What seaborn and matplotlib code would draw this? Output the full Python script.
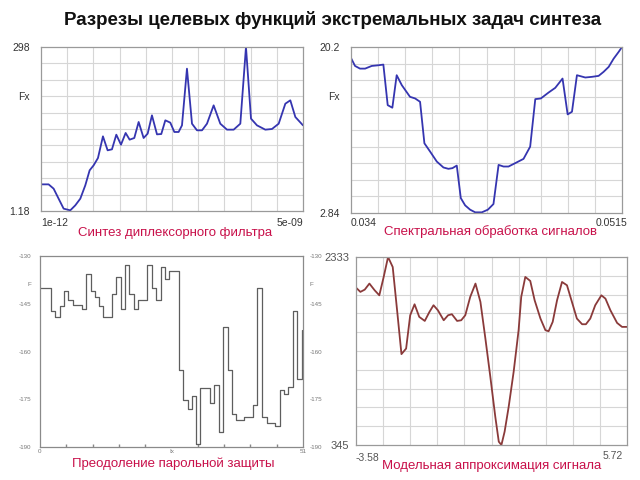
import numpy as np
import matplotlib
matplotlib.use("Agg")
import matplotlib.pyplot as plt
import seaborn as sns

title = "Разрезы целевых функций экстремальных задач синтеза"
sub1 = "Синтез диплексорного фильтра"
sub2 = "Спектральная обработка сигналов"
sub3 = "Преодоление парольной защиты"
sub4 = "Модельная аппроксимация сигнала"

# Panel 1: filter synthesis (x in ns, 1e-12 .. 5e-09)
fir_x = [0.001, 0.146, 0.242, 0.337, 0.433, 0.560, 0.655, 0.751, 0.846, 0.929,
         1.005, 1.088, 1.183, 1.272, 1.355, 1.438, 1.527, 1.616, 1.692, 1.781,
         1.864, 1.959, 2.036, 2.118, 2.214, 2.296, 2.373, 2.468, 2.545, 2.627,
         2.691, 2.786, 2.882, 2.977, 3.073, 3.168, 3.295, 3.422, 3.550, 3.677,
         3.804, 3.912, 4.008, 4.122, 4.281, 4.408, 4.536, 4.663, 4.758, 4.854, 5.000]
fir_y = [49.4, 49.4, 41.6, 23.5, 5.4, 2.4, 11.4, 23.5, 47.6, 74.8,
         83.8, 97.1, 136.3, 111.0, 112.8, 139.3, 121.2, 142.4, 130.3, 133.3,
         162.3, 133.3, 141.2, 174.3, 139.9, 140.5, 165.3, 161.1, 144.2, 144.2,
         156.2, 258.8, 159.2, 147.2, 147.2, 159.2, 192.4, 159.2, 148.4, 148.4,
         159.2, 298.0, 168.3, 156.2, 148.4, 149.6, 159.2, 195.4, 201.5, 171.3, 156.2]
fir_ylim = (1.18, 298.0)
fir_fx = 208.7

# Panel 2: spectral processing
spec_x = [0.03400, 0.03426, 0.03458, 0.03491, 0.03534, 0.03577, 0.03609, 0.03637,
          0.03667, 0.03695, 0.03728, 0.03781, 0.03814, 0.03846, 0.03874, 0.03911,
          0.03954, 0.03997, 0.04029, 0.04055, 0.04083, 0.04109, 0.04137, 0.04169,
          0.04202, 0.04245, 0.04284, 0.04320, 0.04353, 0.04385, 0.04417, 0.04460,
          0.04514, 0.04557, 0.04590, 0.04626, 0.04676, 0.04719, 0.04766, 0.04799,
          0.04827, 0.04859, 0.04913, 0.04956, 0.04999, 0.05031, 0.05064, 0.05096,
          0.05128, 0.05150]
spec_y = [19.05, 18.22, 17.94, 17.94, 18.22, 18.29, 18.36, 14.12,
          13.85, 17.25, 16.21, 14.99, 14.82, 14.47, 10.13, 9.26,
          8.22, 7.60, 7.46, 7.53, 7.80, 4.40, 3.64, 3.19,
          2.91, 2.91, 3.19, 3.78, 7.87, 7.70, 7.70, 8.05,
          8.50, 9.78, 14.75, 14.82, 15.44, 15.93, 16.90, 13.15,
          13.43, 17.25, 17.01, 17.08, 17.18, 17.60, 18.12, 18.98,
          19.68, 20.20]
spec_ylim = (2.84, 20.2)
spec_fx = 15.06

# Panel 3: password protection (step function)
pw_x = [0, 2.07, 2.91, 3.88, 4.66, 5.50, 6.34, 8.09, 8.93, 9.84, 10.68, 11.52,
        12.30, 13.92, 14.76, 15.66, 16.50, 17.35, 18.25, 19.09, 20.84, 21.68,
        22.52, 23.43, 24.27, 25.11, 26.86, 27.70, 28.61, 29.45, 30.29, 31.07,
        32.88, 33.66, 34.63, 35.47, 36.37, 37.21, 38.06, 39.61, 41.29, 42.07,
        43.04, 44.01, 45.63, 46.47, 47.25, 48.02, 48.99, 49.84, 50.81]
pw_y = [-140.2, -147.3, -149.1, -145.7, -141.0, -143.9, -145.4, -146.7, -135.5,
        -140.9, -142.8, -145.7, -149.3, -142.0, -136.5, -146.7, -132.8, -141.8,
        -146.7, -143.9, -132.8, -140.2, -143.9, -133.6, -137.3, -134.6, -165.7,
        -175.3, -178.0, -174.1, -189.0, -171.4, -176.2, -170.4, -185.3, -152.2,
        -165.7, -179.7, -181.6, -180.6, -176.9, -140.2, -180.6, -182.5, -183.5,
        -172.1, -173.4, -171.1, -147.3, -168.5, -153.2]
pw_ylim = (-190, -130)
pw_yticks = [-190, -175, -160, -145, -138.8, -130]
pw_ylabels = ["-190", "-175", "-160", "-145", "F", "-130"]
pw_xticks = [0, 25.5, 51]
pw_xlabels = ["0", "Ix", "51"]

# Panel 4: model signal approximation
mod_x = [-3.58, -3.43, -3.28, -3.12, -2.94, -2.78, -2.63, -2.48, -2.32, -2.17,
         -2.02, -1.86, -1.72, -1.57, -1.41, -1.22, -1.06, -0.92, -0.77, -0.57,
         -0.42, -0.29, -0.11, 0.03, 0.17, 0.34, 0.52, 0.69, 0.86, 1.03,
         1.20, 1.32, 1.41, 1.52, 1.66, 1.83, 2.00, 2.09, 2.23, 2.40,
         2.55, 2.75, 2.92, 3.03, 3.17, 3.32, 3.49, 3.66, 3.83, 4.00,
         4.18, 4.31, 4.46, 4.63, 4.84, 4.98, 5.15, 5.38, 5.55, 5.72]
mod_y = [2009, 1964, 1988, 2052, 1981, 1928, 2122, 2333, 2227, 1770,
         1306, 1365, 1717, 1833, 1700, 1657, 1752, 1823, 1770, 1664,
         1717, 1728, 1657, 1664, 1717, 1911, 2052, 1858, 1471, 1066,
         644, 380, 345, 486, 750, 1119, 1559, 1911, 2122, 2080,
         1876, 1682, 1559, 1548, 1647, 1876, 2069, 2034, 1858, 1682,
         1622, 1622, 1682, 1823, 1928, 1893, 1770, 1636, 1594, 1594]
mod_ylim = (345, 2333)

sns.set_theme(style="white")
plt.rcParams["font.family"] = ["Liberation Sans", "DejaVu Sans"]

W, H = 640, 480
fig = plt.figure(figsize=(6.4, 4.8), dpi=100)
fig.patch.set_facecolor("white")


def add_ax(x0, y0, x1, y1):
    return fig.add_axes([x0 / W, 1 - y1 / H, (x1 - x0) / W, (y1 - y0) / H])


RED = "#c8104a"
LBL = "#333333"


def grid_panel(ax, x, y, xlim, ylim, color, ylabs, fx, lab_size=7.5, lab_color=LBL, pad=8):
    sns.lineplot(x=x, y=y, ax=ax, color=color, lw=1.3, estimator=None, sort=False)
    ax.set_xlim(xlim)
    ax.set_ylim(ylim)
    ax.set_xticks(np.linspace(xlim[0], xlim[1], 11)[1:-1], minor=True)
    ax.set_yticks(np.linspace(ylim[0], ylim[1], 11)[1:-1], minor=True)
    ax.grid(which="minor", color="#d6d6d6", lw=0.8)
    ax.grid(which="major", visible=False)
    if fx is None:
        ax.set_yticks([ylim[0], ylim[1]])
        ax.set_yticklabels(ylabs)
    else:
        ax.set_yticks([ylim[0], fx, ylim[1]])
        ax.set_yticklabels([ylabs[0], "Fx", ylabs[1]])
    ax.set_xticks([])
    ax.tick_params(which="both", length=0, labelsize=lab_size, labelcolor=lab_color, pad=pad)
    for s in ax.spines.values():
        s.set_color("#9a9a9a")
        s.set_linewidth(0.9)
    ax.set_xlabel("")
    ax.set_ylabel("")


# Panel 1
ax1 = add_ax(41, 47, 303, 211)
grid_panel(ax1, fir_x, fir_y, (0.001, 5.0), fir_ylim, "#3535b0", ["1.18", "298"], fir_fx)
ax1.text(0.0, -0.04, "1e-12", transform=ax1.transAxes, ha="left", va="top", fontsize=7.5, color=LBL)
ax1.text(1.0, -0.04, "5e-09", transform=ax1.transAxes, ha="right", va="top", fontsize=7.5, color=LBL)

# Panel 2
ax2 = add_ax(351, 47, 622, 213)
grid_panel(ax2, spec_x, spec_y, (0.034, 0.0515), spec_ylim, "#3535b0", ["2.84", "20.2"], spec_fx)
ax2.text(0.0, -0.03, "0.034", transform=ax2.transAxes, ha="left", va="top", fontsize=7.5, color=LBL)
ax2.text(1.02, -0.03, "0.0515", transform=ax2.transAxes, ha="right", va="top", fontsize=7.5, color=LBL)

# Panel 3
ax3 = add_ax(40, 256, 303, 447)
sns.lineplot(x=pw_x, y=pw_y, ax=ax3, drawstyle="steps-post", color="#5e5e5e", lw=0.9,
             estimator=None, sort=False)
ax3.set_xlim(0, 51)
ax3.set_ylim(pw_ylim)
ax3.set_yticks(pw_yticks)
ax3.set_yticklabels(pw_ylabels)
ax3.set_xticks(pw_xticks)
ax3.set_xticklabels(pw_xlabels)
ax3.set_xticks(np.linspace(0, 51, 11)[1:-1], minor=True)
ax3.tick_params(axis="y", which="major", length=0, labelsize=4.5, labelcolor="#777777", pad=6)
ax3.tick_params(axis="x", which="major", length=0, labelsize=4.5, labelcolor="#777777", pad=1.5)
ax3.tick_params(axis="x", which="minor", direction="in", length=2, color="#888888", bottom=True)
ax3.grid(False)
for s in ax3.spines.values():
    s.set_color("#8a8a8a")
    s.set_linewidth(0.9)
ax3.set_xlabel("")
ax3.set_ylabel("")
ax3r = ax3.twinx()
ax3r.set_ylim(pw_ylim)
ax3r.set_yticks(pw_yticks)
ax3r.set_yticklabels(pw_ylabels)
ax3r.tick_params(axis="y", length=0, labelsize=4.5, labelcolor="#777777", pad=5)
ax3r.grid(False)
for s in ax3r.spines.values():
    s.set_visible(False)

# Panel 4
ax4 = add_ax(356, 257, 627, 445)
grid_panel(ax4, mod_x, mod_y, (-3.58, 5.72), mod_ylim, "#8a3a3a", ["345", "2333"], None,
           lab_size=8, lab_color="#555555", pad=5)
ax4.text(0.0, -0.04, "-3.58", transform=ax4.transAxes, ha="left", va="top", fontsize=7.5, color="#555555")
ax4.text(0.985, -0.03, "5.72", transform=ax4.transAxes, ha="right", va="top", fontsize=7.5, color="#555555")

# Titles
fig.text(333 / W, 1 - 20 / H, title, ha="center", va="center", fontsize=13.5, fontweight="bold", color="#111111")
fig.text(175 / W, 1 - 233 / H, sub1, ha="center", va="center", fontsize=9.5, color=RED)
fig.text(490 / W, 1 - 232 / H, sub2, ha="center", va="center", fontsize=9.5, color=RED)
fig.text(173 / W, 1 - 464 / H, sub3, ha="center", va="center", fontsize=9.5, color=RED)
fig.text(492 / W, 1 - 466 / H, sub4, ha="center", va="center", fontsize=9.5, color=RED)

fig.savefig("out.png", dpi=100, facecolor="white")
